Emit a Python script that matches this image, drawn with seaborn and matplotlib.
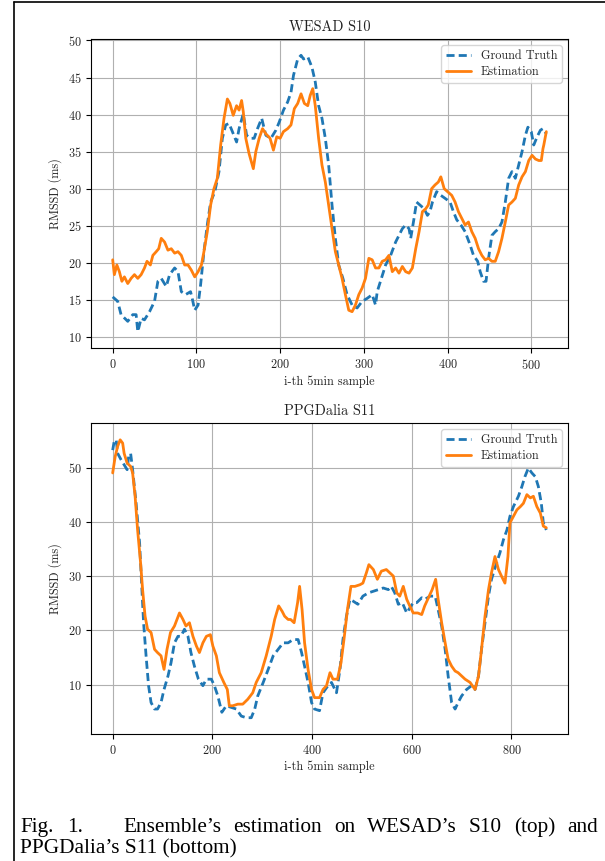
import matplotlib
matplotlib.use("Agg")
import matplotlib.pyplot as plt
import seaborn as sns
import pandas as pd
from matplotlib.lines import Line2D

# ---------------- data ----------------
WESAD_TITLE = "WESAD S10"
PPG_TITLE = "PPGDalia S11"
X_LABEL = "i-th 5min sample"
Y_LABEL = "RMSSD (ms)"
SERIES = ["Ground Truth", "Estimation"]

WESAD_GT = [(0,15.4),(6,14.8),(10,13.0),(18,12.1),(24,13.0),(28,13.0),(30,10.7),(34,12.5),(38,12.3),
            (44,13.4),(50,14.8),(54,17.5),(58,17.9),(64,16.8),(68,18.4),(74,19.3),(78,18.8),(82,16.1),
            (87,15.7),(93,16.1),(95,15.2),(98,13.6),(102,14.3),(105,17.0),(109,21.5),(113,25.1),
            (117,28.2),(122,29.6),(127,32.3),(131,36.8),(135,38.6),(139,38.8),(143,37.7),(148,36.3),
            (151,38.1),(156,40.1),(160,37.2),(165,36.8),(169,36.8),(173,38.1),(178,39.5),(183,37.2),
            (189,36.8),(195,37.9),(199,39.0),(204,40.6),(209,41.7),(213,43.0),(216,45.3),(221,47.5),
            (225,48.0),(228,47.5),(233,47.8),(238,46.4),(242,44.4),(246,41.2),(250,39.5),(254,36.8),
            (258,33.2),(262,27.8),(266,23.3),(270,19.7),(275,17.9),(280,15.7),(286,14.3),(292,13.9),
            (298,14.8),(304,15.2),(310,15.7),(314,14.3),(316,16.1),(321,17.9),(326,19.7),(332,21.0),
            (338,22.8),(342,23.7),(346,24.6),(350,25.1),(354,24.6),(356,23.3),(360,26.0),(363,28.2),
            (368,27.7),(372,27.3),(376,26.4),(379,26.9),(382,28.2),(387,29.6),(392,29.1),(397,28.7),
            (403,28.2),(407,26.9),(411,25.8),(416,25.1),(421,24.2),(427,22.4),(431,21.0),(436,20.2),
            (439,18.8),(443,17.5),(446,17.5),(449,20.6),(453,23.7),(457,24.2),(461,24.6),(465,25.5),
            (469,28.2),(473,31.4),(477,32.3),(481,31.4),(485,33.2),(489,35.0),(493,37.2),(496,38.3),
            (500,37.7),(503,35.9),(507,37.0),(511,37.9),(514,38.1),(518,37.4)]

WESAD_EST = [(0,20.4),(2,18.4),(5,19.7),(8,18.8),(11,17.5),(14,18.1),(18,17.2),(22,17.9),(26,18.4),
             (30,17.9),(34,18.4),(38,19.3),(41,20.2),(45,19.7),(48,21.0),(52,21.5),(55,21.9),(58,23.3),
             (62,22.8),(66,21.7),(70,21.9),(74,21.3),(78,21.5),(82,21.0),(86,19.7),(90,19.7),(94,19.0),
             (98,18.1),(102,18.8),(106,19.7),(109,21.5),(113,24.2),(117,27.8),(121,30.0),(125,31.4),
             (129,35.9),(133,39.5),(137,42.1),(140,41.5),(144,39.9),(148,41.2),(151,40.6),(154,41.9),
             (156,40.4),(159,36.8),(163,34.7),(168,32.7),(171,35.0),(175,36.8),(179,38.1),(183,37.4),
             (188,36.8),(192,35.2),(196,37.0),(200,36.8),(204,37.7),(209,38.1),(213,38.6),(217,40.8),
             (221,41.5),(225,42.8),(229,41.5),(233,41.2),(236,42.6),(239,43.5),(242,41.2),(246,36.8),
             (250,33.2),(254,30.9),(258,27.8),(262,24.6),(266,21.5),(270,19.7),(274,17.9),(278,15.7),
             (282,13.6),(286,13.4),(290,14.3),(294,15.7),(298,16.6),(302,17.9),(306,20.6),(310,20.4),
             (314,19.3),(318,19.3),(322,20.2),(326,20.4),(330,21.0),(334,18.8),(338,19.3),(342,18.6),
             (346,19.5),(350,18.8),(354,18.6),(358,19.3),(362,21.9),(366,24.2),(370,26.9),(374,27.3),
             (377,27.8),(381,30.0),(385,30.5),(389,30.9),(392,31.6),(396,30.0),(400,29.6),(405,29.1),
             (409,28.2),(413,26.9),(417,26.0),(421,25.1),(425,25.5),(429,24.2),(433,23.3),(437,21.9),
             (441,21.0),(445,20.4),(449,20.6),(453,20.2),(457,20.2),(461,21.5),(465,23.3),(469,25.5),
             (473,27.8),(477,28.2),(481,28.7),(485,30.5),(489,31.6),(493,32.3),(497,33.8),(501,34.5),
             (505,34.0),(509,33.8),(512,33.8),(514,35.4),(515,35.9),(518,37.7)]

PPG_GT = [(0,53.2),(3,54.8),(7,55.1),(10,52.6),(17,51.4),(23,50.5),(29,49.6),(32,52.0),(36,52.6),
          (40,49.6),(47,43.4),(54,36.1),(58,28.7),(62,21.4),(67,15.3),(72,9.8),(77,6.7),(84,5.5),
          (90,5.5),(97,6.7),(103,9.1),(111,11.6),(117,14.0),(124,17.7),(131,18.9),(137,18.9),
          (144,20.2),(151,18.9),(157,15.9),(164,13.4),(172,11.0),(181,9.8),(188,11.0),(198,11.0),
          (204,9.8),(211,7.9),(219,4.9),(228,6.1),(238,5.8),(248,5.5),(258,4.2),(268,3.9),(278,3.9),
          (285,5.5),(291,7.9),(302,10.4),(312,12.8),(322,15.3),(332,16.5),(342,17.7),(352,17.7),
          (362,18.3),(372,18.3),(379,15.9),(385,13.4),(392,10.4),(399,6.7),(405,5.5),(415,5.2),
          (422,8.5),(432,9.8),(439,10.4),(449,8.5),(456,12.8),(462,18.3),(469,22.6),(476,25.7),
          (482,25.4),(492,24.8),(502,26.3),(513,26.9),(523,27.2),(533,27.5),(543,27.8),(553,27.5),
          (559,28.1),(566,26.9),(573,24.8),(581,25.1),(590,23.2),(596,24.1),(603,25.1),(610,25.1),
          (620,26.0),(626,25.7),(637,26.3),(647,26.3),(653,23.8),(660,20.8),(667,16.5),(673,11.6),
          (680,6.7),(687,5.5),(693,6.7),(700,7.9),(710,9.1),(720,9.8),(727,9.1),(734,11.6),(740,16.5),
          (747,21.4),(754,26.3),(760,29.4),(768,31.8),(777,34.3),(784,36.7),(791,38.5),(797,41.0),
          (804,42.8),(814,44.7),(821,46.5),(827,48.3),(834,49.9),(841,49.0),(848,48.3),(854,46.5),
          (860,43.4),(864,39.8),(870,38.5)]

PPG_EST = [(0,49.0),(5,52.0),(10,53.9),(15,55.1),(20,54.5),(23,52.6),(29,50.8),(36,50.2),(40,49.0),
           (45,44.7),(50,38.5),(56,32.4),(60,27.5),(65,22.6),(70,20.2),(77,19.6),(84,16.5),(90,15.9),
           (97,15.3),(103,12.8),(109,16.5),(116,19.6),(124,20.8),(129,22.0),(134,23.2),(141,22.0),
           (147,20.8),(154,21.4),(161,18.9),(168,17.1),(174,15.9),(181,17.7),(188,18.9),(196,19.2),
           (201,17.1),(208,15.3),(214,12.2),(223,10.4),(230,9.1),(234,6.1),(241,6.1),(251,6.4),
           (261,6.4),(271,7.3),(281,8.5),(288,10.4),(298,12.2),(308,15.3),(318,18.9),(325,22.0),
           (333,24.5),(340,23.5),(345,22.6),(352,22.0),(357,22.0),(364,21.4),(371,25.1),(375,28.1),
           (380,23.8),(385,17.7),(392,12.8),(399,9.1),(405,7.6),(415,7.6),(422,9.1),(429,9.8),
           (436,12.2),(442,11.0),(451,11.0),(458,14.0),(464,18.3),(471,23.8),(478,28.1),(486,28.1),
           (496,28.4),(502,28.7),(509,30.6),(514,32.1),(523,31.2),(531,29.4),(539,30.9),(549,31.2),
           (556,30.6),(563,30.0),(570,26.9),(576,26.3),(583,28.1),(590,25.7),(596,24.5),(603,23.2),
           (612,23.2),(620,22.9),(626,24.5),(635,26.3),(641,27.5),(648,29.4),(653,25.7),(660,21.4),
           (667,17.7),(673,14.7),(680,13.4),(687,12.5),(693,12.2),(700,11.6),(707,11.0),(717,10.4),
           (727,9.1),(734,11.6),(740,16.5),(747,22.6),(754,27.5),(760,30.6),(767,33.6),(774,31.2),
           (780,30.0),(787,28.7),(793,33.6),(797,39.8),(804,41.0),(811,42.2),(818,42.8),(824,43.4),
           (831,45.0),(838,44.4),(844,44.7),(851,42.8),(858,41.6),(864,39.2),(870,38.9)]

WESAD_YTICKS = [10, 15, 20, 25, 30, 35, 40, 45, 50]
WESAD_XTICKS = [0, 100, 200, 300, 400, 500]
PPG_YTICKS = [10, 20, 30, 40, 50]
PPG_XTICKS = [0, 200, 400, 600, 800]

CAPTION_LEAD = ["Fig.", "1."]
CAPTION_LINE1 = ["Ensemble\u2019s", "estimation", "on", "WESAD\u2019s", "S10", "(top)", "and"]
CAPTION_LINE2 = "PPGDalia\u2019s S11 (bottom)"

# ---------------- style ----------------
sns.set_style("ticks")
plt.rcParams.update({
    "font.family": ["cmr10", "DejaVu Serif"],
    "mathtext.fontset": "cm",
    "axes.formatter.use_mathtext": True,
    "font.size": 8.8,
    "axes.edgecolor": "black",
    "axes.linewidth": 0.8,
    "axes.unicode_minus": False,
    "xtick.color": "black",
    "ytick.color": "black",
    "xtick.labelcolor": "#222222",
    "ytick.labelcolor": "#222222",
    "xtick.major.size": 3.5,
    "ytick.major.size": 3.5,
    "xtick.major.width": 0.8,
    "ytick.major.width": 0.8,
    "grid.color": "#b0b0b0",
    "grid.linewidth": 0.8,
})

W, H = 605, 861
fig = plt.figure(figsize=(W / 100, H / 100), dpi=100)


def frame(pairs, name):
    return pd.DataFrame({"sample": [p[0] for p in pairs],
                         "rmssd": [p[1] for p in pairs],
                         "series": name})


def panel(rect, gt, est, title, xticks, yticks, ylim):
    ax = fig.add_axes(rect)
    df = pd.concat([frame(gt, SERIES[0]), frame(est, SERIES[1])], ignore_index=True)
    sns.lineplot(data=df, x="sample", y="rmssd", hue="series", style="series",
                 hue_order=SERIES, style_order=SERIES,
                 palette={SERIES[0]: "#1f77b4", SERIES[1]: "#ff7f0e"},
                 dashes={SERIES[0]: (2.9, 1.5), SERIES[1]: ""},
                 estimator=None, linewidth=2.0, ax=ax)
    ax.set_xticks(xticks)
    ax.set_yticks(yticks)
    ax.set_ylim(*ylim)
    ax.grid(True)
    ax.set_axisbelow(True)
    ax.set_title(title, fontsize=10.4, color="#222222", pad=6)
    ax.set_xlabel(X_LABEL, color="#222222", labelpad=3)
    ax.set_ylabel(Y_LABEL, color="#222222", labelpad=4)
    handles, labels = ax.get_legend_handles_labels()
    ax.legend(handles, labels, loc="upper right", fontsize=8.8, frameon=True,
              fancybox=True, framealpha=0.8, edgecolor="#cccccc", handlelength=2.0,
              borderpad=0.4, labelspacing=0.3)
    for s in ax.spines.values():
        s.set_visible(True)
        s.set_color("black")
    return ax


panel([91 / W, 1 - 348 / H, 477 / W, 309 / H], WESAD_GT, WESAD_EST, WESAD_TITLE,
      WESAD_XTICKS, WESAD_YTICKS, (8.5, 50.2))
panel([91 / W, 1 - 734 / H, 477 / W, 311 / H], PPG_GT, PPG_EST, PPG_TITLE,
      PPG_XTICKS, PPG_YTICKS, (0.9, 58.2))

# page frame lines
fig.add_artist(Line2D([14 / W, 14 / W], [0, 1 - 2 / H], color="black", lw=1.2,
                      transform=fig.transFigure))
fig.add_artist(Line2D([14 / W, 1], [1 - 2 / H, 1 - 2 / H], color="black", lw=1.2,
                      transform=fig.transFigure))

# caption (justified first line)
cap_kw = dict(family=["Liberation Serif", "DejaVu Serif"], fontsize=15.3, color="black",
              va="baseline", ha="left")
y1 = 1 - 832 / H
y2 = 1 - 853 / H
fig.text(20 / W, y1, CAPTION_LEAD[0], **cap_kw)
fig.text(67.5 / W, y1, CAPTION_LEAD[1], **cap_kw)
fig.canvas.draw()
renderer = fig.canvas.get_renderer()
texts = [fig.text(0, y1, w, **cap_kw) for w in CAPTION_LINE1]
widths = [t.get_window_extent(renderer).width for t in texts]
x_start, x_end = 123.5, 598.0
gap = (x_end - x_start - sum(widths)) / (len(texts) - 1)
xpos = x_start
for t, wdt in zip(texts, widths):
    t.set_x(xpos / W)
    xpos += wdt + gap
fig.text(20 / W, y2, CAPTION_LINE2, **cap_kw)

fig.savefig("out.png", dpi=100)
